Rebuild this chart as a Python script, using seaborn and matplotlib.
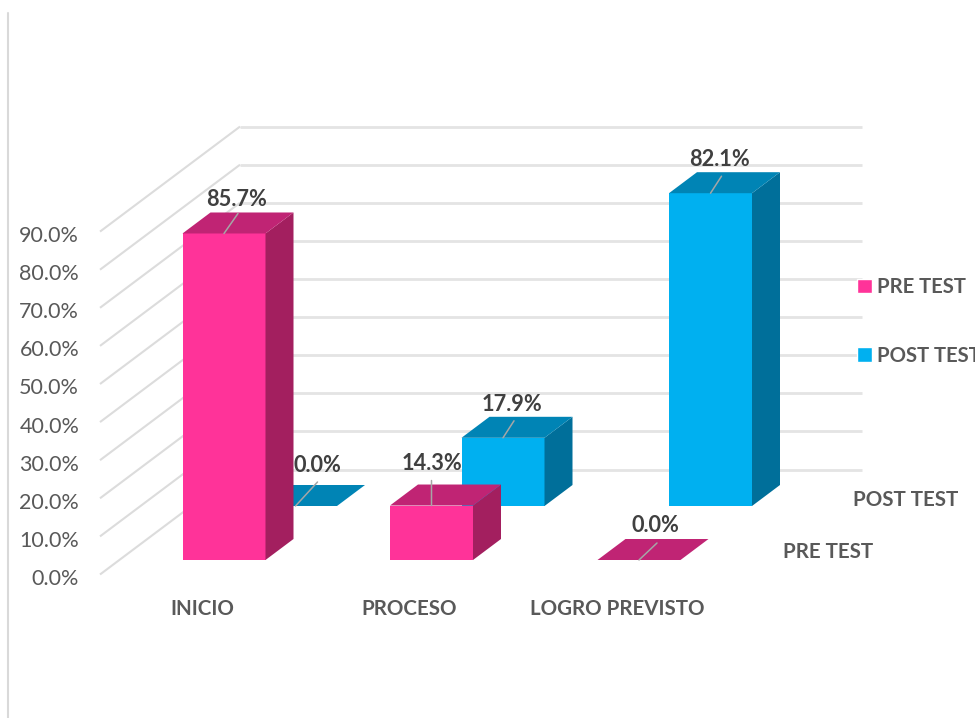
import matplotlib
matplotlib.use("Agg")
import matplotlib.pyplot as plt
from matplotlib.patches import Patch, Polygon
from matplotlib.lines import Line2D
import pandas as pd
import seaborn as sns

categories = ["INICIO", "PROCESO", "LOGRO PREVISTO"]
pre_test = [85.7, 14.3, 0.0]
post_test = [0.0, 17.9, 82.1]
y_ticks = [0, 10, 20, 30, 40, 50, 60, 70, 80, 90]
series_names = ["PRE TEST", "POST TEST"]

W, H, DPI = 975, 718, 100
PX_X, PX_Y = 207.5, 3.81          # pixels per category / per percentage point
DEPTH_X, DEPTH_Y = 28, 21         # bar depth in pixels
BAR_W = 0.40

sns.set_theme(style="white")
plt.rcParams["font.family"] = ["Lato", "DejaVu Sans"]
GREY = "#595959"
DARK = "#404040"

fig = plt.figure(figsize=(W / DPI, H / DPI), dpi=DPI, facecolor="white")


def plane(x0, y0, left=0, bottom=H):
    """Transparent axes whose data origin sits at pixel (x0, y0)."""
    ax = fig.add_axes([left / W, (H - bottom) / H, (W - left) / W, bottom / H])
    ax.patch.set_alpha(0)
    limit_plane(ax, x0, y0, left, bottom)
    return ax


def limit_plane(ax, x0, y0, left=0, bottom=H):
    ax.set_xlim((left - x0) / PX_X, (W - x0) / PX_X)
    ax.set_ylim((y0 - bottom) / PX_Y, y0 / PX_Y)


def bars3d(values, x0, y0, front, side, top, label_off, leader_off):
    ax = plane(x0, y0)
    df = pd.DataFrame({"categoria": categories, "valor": values})
    sns.barplot(data=df, x="categoria", y="valor", color=front, saturation=1,
                width=BAR_W, linewidth=0, ax=ax, zorder=3)
    limit_plane(ax, x0, y0)
    ax.axis("off")
    dx, dy = DEPTH_X / PX_X, DEPTH_Y / PX_Y
    for p, v, lo, le in zip(list(ax.patches), values, label_off, leader_off):
        xl, xr, h = p.get_x(), p.get_x() + p.get_width(), p.get_height()
        ax.add_patch(Polygon([(xr, 0), (xr + dx, dy), (xr + dx, h + dy), (xr, h)],
                             fc=side, ec="none", zorder=3))
        ax.add_patch(Polygon([(xl, h), (xl + dx, h + dy), (xr + dx, h + dy), (xr, h)],
                             fc=top, ec="none", zorder=3))
        cx = (xl + xr) / 2
        ax.annotate("", xy=(cx, h), xytext=le, textcoords="offset pixels",
                    arrowprops=dict(arrowstyle="-", color="#a6a6a6", lw=1.1,
                                    shrinkA=0, shrinkB=0), zorder=4)
        ax.annotate(f"{v:.1f}%", xy=(cx, h), xytext=lo, textcoords="offset pixels",
                    ha="center", va="center", fontsize=15.7, fontweight="bold",
                    color=DARK, zorder=5)
    return ax


# walls: gridlines and the slanted side wall
wall = plane(240, 469.5)
wall.axis("off")
wall_len = (862 - 240) / PX_X
for t in y_ticks:
    wall.plot([0, wall_len], [t, t], color="#e4e4e4", lw=2.0, solid_capstyle="butt")
    wall.plot([0, -140 / PX_X], [t, t - 105 / PX_Y], color="#dcdcdc", lw=1.5,
              solid_capstyle="butt")

# value and category axis
axis = plane(202, 577, left=84, bottom=598)
axis.set_yticks(y_ticks)
axis.set_yticklabels([f"{t:.1f}%" for t in y_ticks])
axis.set_xticks(range(len(categories)))
axis.set_xticklabels(categories, fontweight="bold")
axis.tick_params(axis="both", length=0, labelsize=15.5, labelcolor=GREY)
axis.tick_params(axis="y", pad=3.5)
axis.tick_params(axis="x", pad=1, labelsize=14.8)
sns.despine(ax=axis, left=True, bottom=True)

# POST TEST row sits behind, PRE TEST row in front
bars3d(post_test, 295.5, 506, "#00B0F0", "#006F9A", "#0084B5",
       [(22, 41), (9, 33), (9, 34)], [(22, 24), (11, 17), (11, 17)])
bars3d(pre_test, 224, 560, "#FF3399", "#A31F5F", "#C02474",
       [(13, 34), (0, 42), (16, 34)], [(14, 20), (0, 25), (18, 17)])

# depth-axis labels
fig.text(906 / W, 1 - 500 / H, series_names[1], ha="center", va="center",
         fontsize=14.8, fontweight="bold", color=GREY)
fig.text(828 / W, 1 - 552 / H, series_names[0], ha="center", va="center",
         fontsize=14.8, fontweight="bold", color=GREY)

# legend
handles = [Patch(fc="#FF3399"), Patch(fc="#00B0F0")]
leg = fig.legend(handles, series_names, loc="upper left",
                 bbox_to_anchor=(857 / W, 1 - 277 / H), frameon=False,
                 borderpad=0, borderaxespad=0, handlelength=0.75, handleheight=0.75,
                 handletextpad=0.25, labelspacing=2.4,
                 prop=dict(size=14.6, weight="bold"))
for t in leg.get_texts():
    t.set_color(GREY)

# chart frame, left edge
fig.add_artist(Line2D([8 / W, 8 / W], [0, 1 - 13 / H], color="#d9d9d9", lw=1.5))

fig.savefig("out.png", dpi=DPI, facecolor="white")
